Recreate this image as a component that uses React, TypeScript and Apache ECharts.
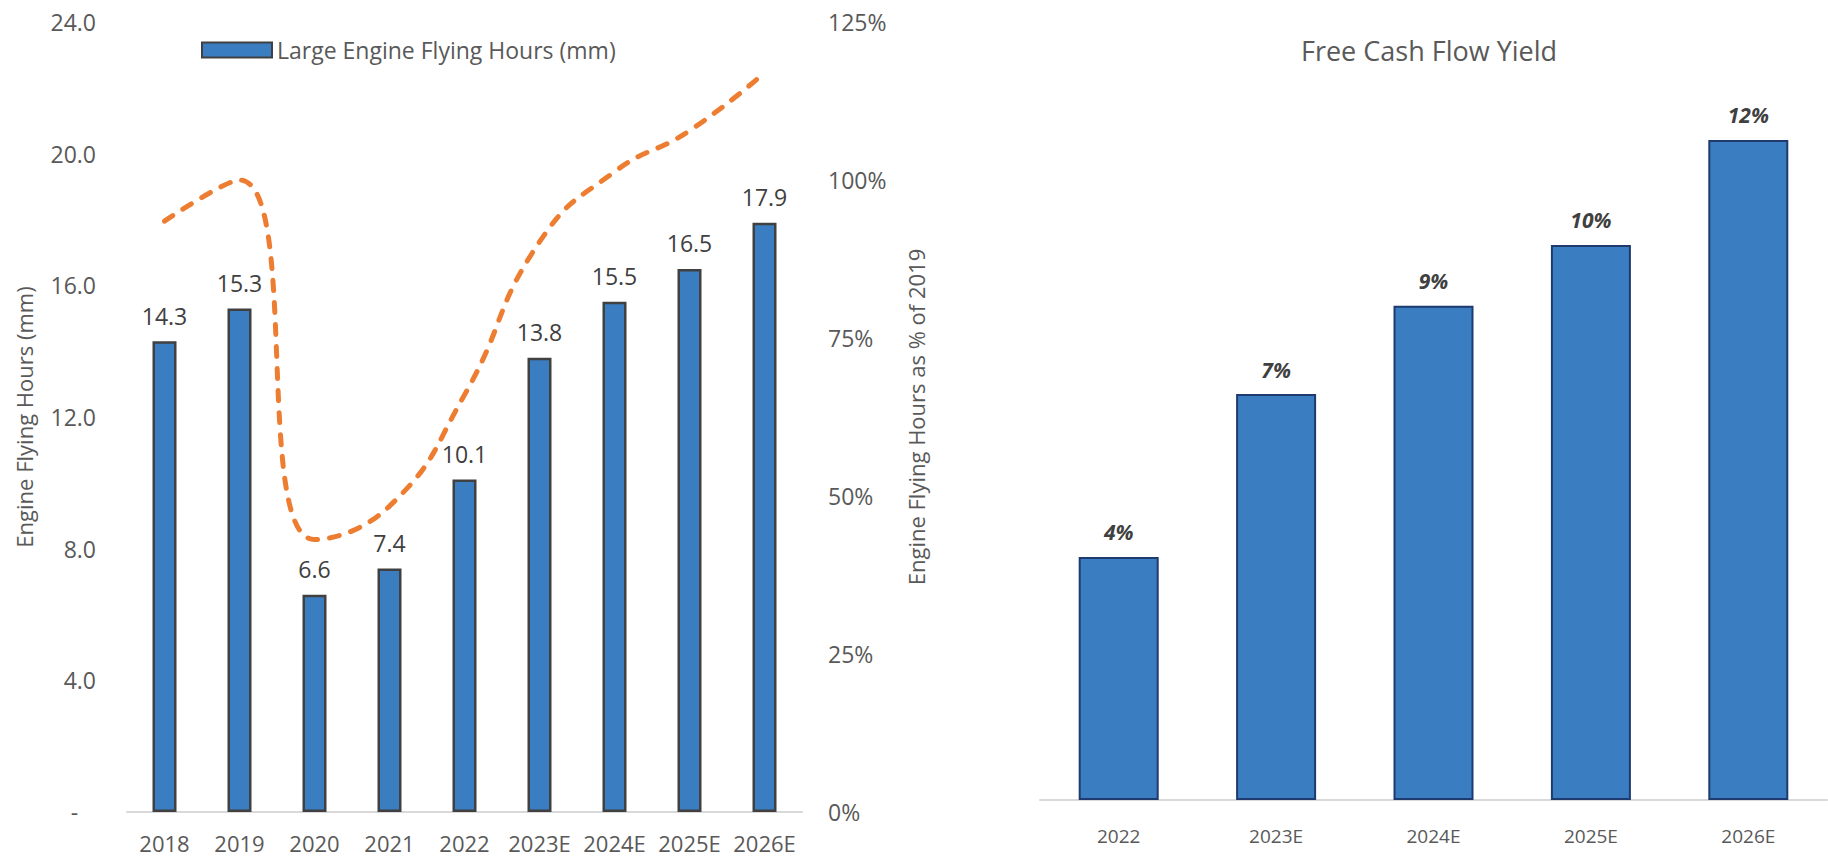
import React, { useEffect, useRef } from "react";
import * as echarts from "echarts";

const years = ["2018", "2019", "2020", "2021", "2022", "2023E", "2024E", "2025E", "2026E"];
const flyingHours = [14.3, 15.3, 6.6, 7.4, 10.1, 13.8, 15.5, 16.5, 17.9];
const pctOf2019 = [93.5, 100, 43.1, 48.4, 66.0, 90.2, 101.3, 107.8, 117.0];

const fcfYears = ["2022", "2023E", "2024E", "2025E", "2026E"];
const fcfYield = [4.4, 7.35, 8.95, 10.05, 11.95];

const FONT = "Open Sans";
const GREY = "#595959";
const DARK = "#404040";
const BLUE = "#3A7DC1";

export default function App() {
  const ref = useRef<HTMLDivElement>(null);
  useEffect(() => {
    if (!ref.current) return;
    const chart = echarts.init(ref.current, undefined, { renderer: "svg" });
    chart.setOption({
      animation: false,
      textStyle: { fontFamily: FONT },
      title: {
        text: "Free Cash Flow Yield",
        left: 1424,
        top: 32,
        textAlign: "center",
        textStyle: { fontFamily: FONT, fontSize: 27, fontWeight: "normal", color: GREY },
      },
      legend: {
        data: ["Large Engine Flying Hours (mm)"],
        left: 196,
        top: 32,
        icon: "rect",
        itemWidth: 70,
        itemHeight: 15,
        itemGap: 10,
        textStyle: { fontFamily: FONT, fontSize: 23, color: GREY, lineHeight: 26 },
      },
      grid: [
        { left: 127, right: 1026, top: 22, bottom: 50 },
        { left: 1040, right: 1, top: 82, bottom: 62 },
      ],
      xAxis: [
        {
          type: "category",
          gridIndex: 0,
          data: years,
          axisLine: { lineStyle: { color: "#D9D9D9", width: 2 } },
          axisTick: { show: false },
          axisLabel: { color: GREY, fontSize: 22, fontFamily: FONT, margin: 21, lineHeight: 20, interval: 0 },
        },
        {
          type: "category",
          gridIndex: 1,
          data: fcfYears,
          axisLine: { lineStyle: { color: "#D9D9D9", width: 2 } },
          axisTick: { show: false },
          axisLabel: { color: GREY, fontSize: 19, fontFamily: FONT, margin: 25, lineHeight: 22, interval: 0 },
        },
      ],
      yAxis: [
        {
          type: "value",
          gridIndex: 0,
          min: 0,
          max: 24,
          interval: 4,
          name: "Engine Flying Hours (mm)",
          nameLocation: "middle",
          nameRotate: 90,
          nameGap: 92,
          nameTextStyle: { color: GREY, fontSize: 22, fontFamily: FONT },
          splitLine: { show: false },
          axisLine: { show: false },
          axisTick: { show: false },
          axisLabel: {
            color: GREY,
            fontSize: 23,
            fontFamily: FONT,
            margin: 31,
            formatter: (v: number) => (v === 0 ? "-   " : v.toFixed(1)),
          },
        },
        {
          type: "value",
          gridIndex: 0,
          position: "right",
          min: 0,
          max: 125,
          interval: 25,
          name: "Engine Flying Hours as % of 2019",
          nameLocation: "middle",
          nameRotate: 90,
          nameGap: 103,
          nameTextStyle: { color: GREY, fontSize: 22, fontFamily: FONT },
          splitLine: { show: false },
          axisLine: { show: false },
          axisTick: { show: false },
          axisLabel: { color: GREY, fontSize: 23, fontFamily: FONT, margin: 26, formatter: "{value}%" },
        },
        {
          type: "value",
          gridIndex: 1,
          min: 0,
          max: 13,
          show: false,
          splitLine: { show: false },
        },
      ],
      series: [
        {
          name: "Large Engine Flying Hours (mm)",
          type: "bar",
          xAxisIndex: 0,
          yAxisIndex: 0,
          data: flyingHours,
          barWidth: 24,
          itemStyle: { color: BLUE, borderColor: DARK, borderWidth: 2.5 },
          label: {
            show: true,
            position: "top",
            distance: 14,
            color: DARK,
            fontSize: 23,
            fontFamily: FONT,
            formatter: (p: any) => Number(p.value).toFixed(1),
          },
        },
        {
          name: "pct",
          type: "line",
          xAxisIndex: 0,
          yAxisIndex: 1,
          data: pctOf2019,
          smooth: 0.5,
          symbol: "none",
          lineStyle: { color: "#ED7D31", width: 5, type: [10, 12], cap: "round" },
          z: 3,
        },
        {
          name: "fcf",
          type: "bar",
          xAxisIndex: 1,
          yAxisIndex: 2,
          data: fcfYield,
          barWidth: 80,
          itemStyle: { color: BLUE, borderColor: "#1F3A6E", borderWidth: 2 },
          label: {
            show: true,
            position: "top",
            distance: 14,
            color: DARK,
            fontSize: 21,
            fontFamily: FONT,
            fontStyle: "italic",
            fontWeight: "bold",
            formatter: (p: any) => Math.round(p.value) + "%",
          },
        },
      ],
    });
    return () => chart.dispose();
  }, []);
  return (
    <div
      ref={ref}
      style={{ position: "fixed", left: 0, top: 0, width: 1828, height: 862, background: "#fff" }}
    />
  );
}
